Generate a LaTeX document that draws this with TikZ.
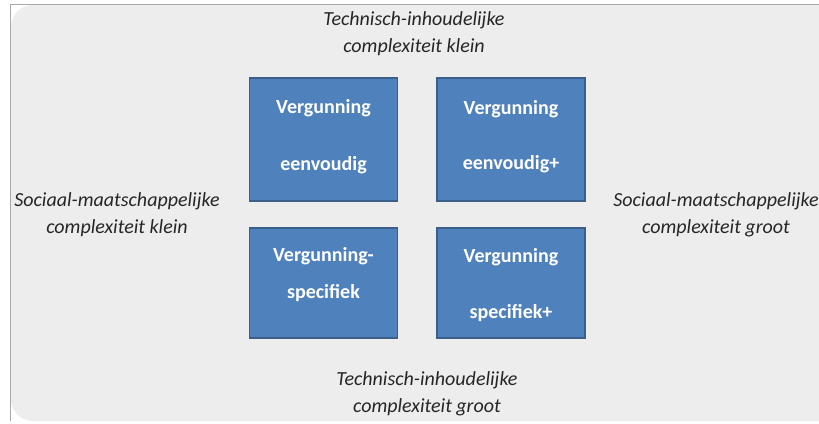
\documentclass[tikz,border=0pt]{standalone}
\usepackage{fontspec}
\setmainfont{Carlito}
\usepackage{tikz}

\definecolor{vakblauw}{HTML}{4F81BD}
\definecolor{vakrand}{HTML}{3A5F8B}
\definecolor{achtergrond}{HTML}{EDEDED}
\definecolor{kader}{HTML}{A8A8A8}

\begin{document}
\begin{tikzpicture}[x=1pt,y=-1pt,
  vak/.style={draw=vakrand, line width=1.6pt, fill=vakblauw, text=white,
    font=\fontsize{20}{24}\selectfont\bfseries, align=center, inner sep=0pt,
    minimum width=148pt},
  as/.style={font=\fontsize{20}{27}\selectfont\itshape, text=black!85, align=center}]
\clip (0,0) rectangle (819,423);

% Background
\fill[white] (0,0) rectangle (819,423);
\fill[achtergrond, rounded corners=22pt] (11,5) rectangle (850,421);
\draw[kader, line width=1pt] (830,4) -| (10,421);

% Quadrants
\node[vak, text height=92pt, text depth=31pt] (eenvoudig) at (323.5,139.5) {Vergunning\\[33pt]eenvoudig};
\node[vak, text height=91pt, text depth=32pt] (eenvoudigplus) at (511,139.5) {Vergunning\\[31pt]eenvoudig+};
\node[vak, text height=70pt, text depth=40pt] (specifiek) at (323.5,283) {Vergunning-\\[13pt]specifiek};
\node[vak, text height=90pt, text depth=20pt] (specifiekplus) at (511,283) {Vergunning\\[32pt]specifiek+};

% Axes
\node[as] (tiklein) at (414,34) {Technisch-inhoudelijke\\complexiteit klein};
\node[as] (tigroot) at (427,394) {Technisch-inhoudelijke\\complexiteit groot};
\node[as] (smklein) at (117,215) {Sociaal-maatschappelijke\\complexiteit klein};
\node[as] (smgroot) at (716,215) {Sociaal-maatschappelijke\\complexiteit groot};
\end{tikzpicture}
\end{document}
